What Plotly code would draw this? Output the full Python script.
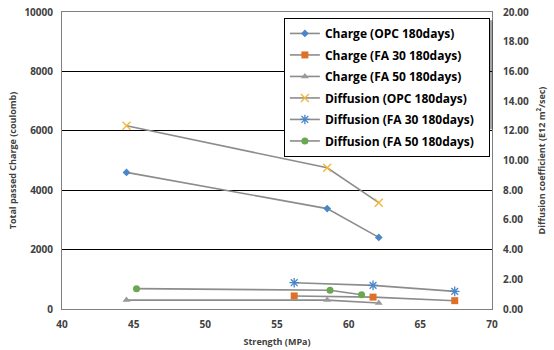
import plotly.graph_objects as go

# Strength (MPa) and measured values for each mix
opc_strength = [44.5, 58.5, 62.1]
fa30_strength = [56.2, 61.7, 67.4]
fa50_strength = [44.5, 58.5, 62.1]
fa50_diff_strength = [45.2, 58.7, 60.9]

charge_opc = [4600, 3380, 2410]
charge_fa30 = [440, 400, 280]
charge_fa50 = [300, 300, 200]

diff_opc = [12.34, 9.51, 7.16]
diff_fa30 = [1.77, 1.59, 1.19]
diff_fa50 = [1.37, 1.26, 0.96]

x_ticks = [40, 45, 50, 55, 60, 65, 70]
y_ticks = [0, 2000, 4000, 6000, 8000, 10000]
y_labels = ["0", "2000", "4000", "6000", "8000", "10000"]
y2_ticks = [0, 2, 4, 6, 8, 10, 12, 14, 16, 18, 20]

LINE = "#8c8c8c"
FONT = "Open Sans"
TXT = "#404040"
PAD = "\u00a0" * 3  # right padding inside the legend box

series = [
    ("Charge (OPC 180days)", opc_strength, charge_opc, "y", "diamond", "#4a86c8", 6, 0),
    ("Charge (FA 30 180days)", fa30_strength, charge_fa30, "y", "square", "#e07026", 7, 0),
    ("Charge (FA 50 180days)", fa50_strength, charge_fa50, "y", "triangle-up", "#9a9a9a", 7, 0),
    ("Diffusion (OPC 180days)", opc_strength, diff_opc, "y2", "x-thin-open", "#f2b632", 8, 1.3),
    ("Diffusion (FA 30 180days)", fa30_strength, diff_fa30, "y2", "asterisk-open", "#4a86c8", 8, 1.3),
    ("Diffusion (FA 50 180days)", fa50_diff_strength, diff_fa50, "y2", "circle", "#6aa84f", 7, 0),
]

fig = go.Figure()
for i, (name, xs, ys, ax, sym, col, size, lw) in enumerate(series):
    marker = dict(symbol=sym, color=col, size=size)
    if lw:
        marker["line"] = dict(color=col, width=lw)
    fig.add_trace(go.Scatter(
        x=xs, y=ys, name=name + PAD, yaxis=ax, mode="lines+markers", legendgroup=f"g{i}",
        line=dict(color=LINE, width=1.6), marker=marker,
    ))

# soft drop shadow behind the legend box
fig.add_shape(type="rect", xref="paper", yref="paper",
              x0=0.525, x1=1.002, y0=0.605, y1=0.972,
              fillcolor="rgba(0,0,0,0.35)", line=dict(width=0), layer="above")

fig.update_layout(
    width=554, height=350,
    margin=dict(l=62, r=62, t=12, b=41, autoexpand=False),
    paper_bgcolor="white", plot_bgcolor="white",
    font=dict(family=FONT, color=TXT, size=10),
    showlegend=True,
    legend=dict(
        x=0.516, y=0.98, xanchor="left", yanchor="top",
        bgcolor="white", bordercolor="#000000", borderwidth=1,
        font=dict(family=FONT, size=12, color="#000000", weight="bold"),
        itemwidth=30, tracegroupgap=2.5,
    ),
    xaxis=dict(
        range=[40, 70], tickvals=x_ticks, showgrid=False, zeroline=False,
        showline=True, linecolor="#7f7f7f", linewidth=1, mirror=True,
        ticklabelstandoff=6, automargin=False,
        tickfont=dict(size=10, weight="bold"),
        title=dict(text="Strength (MPa)", font=dict(size=9, weight="bold"), standoff=8),
    ),
    yaxis=dict(
        range=[0, 10000], tickvals=y_ticks, ticktext=y_labels,
        showgrid=True, gridcolor="#000000", gridwidth=1,
        zeroline=False, showline=True, linecolor="#7f7f7f", linewidth=1,
        ticklabelstandoff=6, automargin=False,
        tickfont=dict(size=10, weight="bold"),
        title=dict(text="Total passed Charge (coulomb)", font=dict(size=9, weight="bold"), standoff=6),
    ),
    yaxis2=dict(
        range=[0, 20], tickvals=y2_ticks, tickformat=".2f", overlaying="y", side="right",
        showgrid=False, zeroline=False, showline=True, linecolor="#7f7f7f", linewidth=1,
        ticklabelstandoff=8, automargin=False,
        tickfont=dict(size=10, weight="bold"),
        title=dict(text="Diffusion coefficient (E12 m<sup>2</sup>/sec)",
                   font=dict(size=9, weight="bold"), standoff=10),
    ),
)

fig.write_html("out.html")
